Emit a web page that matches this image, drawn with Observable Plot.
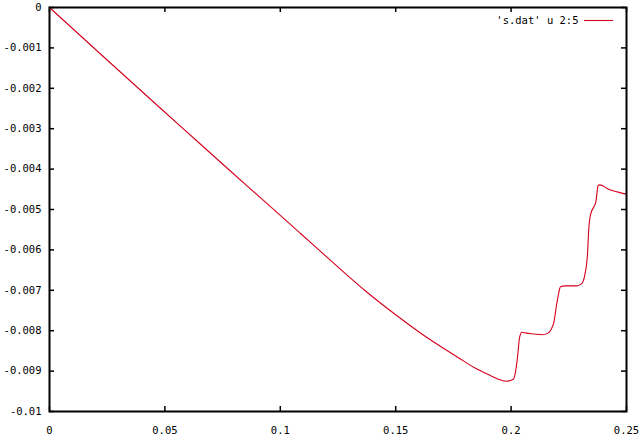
<!DOCTYPE html>
<html>
<head>
<meta charset="utf-8">
<script src="https://cdn.jsdelivr.net/npm/d3@7"></script>
<script src="https://cdn.jsdelivr.net/npm/@observablehq/plot@0.6"></script>
<style>
  html, body { margin: 0; padding: 0; background: #fff; }
  svg { display: block; }
</style>
</head>
<body>
<div id="chart"></div>
<script>
const xs = [0, 0.024, 0.0482, 0.0634, 0.0786, 0.0938, 0.1089, 0.1220, 0.1372, 0.1510, 0.1610, 0.1775, 0.1840, 0.1914, 0.1944, 0.1979, 0.2010, 0.2018, 0.2027, 0.2037, 0.2047, 0.2066, 0.2100, 0.2135, 0.2160, 0.2175, 0.2185, 0.2196, 0.2207, 0.2214, 0.2233, 0.2283, 0.2305, 0.2319, 0.2331, 0.2337, 0.2345, 0.2358, 0.2367, 0.2377, 0.2384, 0.2420, 0.2464, 0.25];
const ys = [0, -0.00125, -0.00250, -0.00328, -0.00406, -0.00483, -0.00560, -0.00627, -0.00703, -0.00765, -0.00807, -0.00868, -0.00891, -0.00912, -0.00920, -0.00925, -0.00920, -0.00905, -0.00870, -0.00816, -0.00804, -0.00806, -0.00808, -0.00810, -0.00806, -0.00795, -0.00780, -0.00740, -0.00705, -0.00691, -0.00689, -0.00689, -0.00684, -0.00663, -0.00610, -0.00544, -0.00511, -0.00494, -0.00482, -0.00441, -0.00439, -0.00449, -0.00457, -0.00462];
const xTicks = [0, 0.05, 0.1, 0.15, 0.2, 0.25];
const yTicks = [0, -0.001, -0.002, -0.003, -0.004, -0.005, -0.006, -0.007, -0.008, -0.009, -0.01];
const seriesLabel = "'s.dat' u 2:5";

const data = xs.map((x, i) => ({x, y: ys[i]}));

const W = 639, H = 448;
const mL = 49, mR = 13, mT = 7, mB = 37;
const iW = W - mL - mR, iH = H - mT - mB;
const tick = 5;
const fmt = d => String(+(+d).toFixed(3));
const red = "#d4001c";

const chart = Plot.plot({
  width: W,
  height: H,
  marginLeft: mL,
  marginRight: mR,
  marginTop: mT,
  marginBottom: mB,
  style: {fontFamily: "'DejaVu Sans Mono', monospace", fontSize: "10.5px", background: "#fff", color: "#000"},
  x: {domain: [0, 0.25], label: null},
  y: {domain: [-0.01, 0], label: null},
  marks: [
    Plot.axisX(xTicks, {tickSize: 0, tickPadding: 15, tickFormat: fmt, fontSize: 10.5, label: null}),
    Plot.axisY(yTicks, {tickSize: 0, tickPadding: 8, tickFormat: fmt, fontSize: 10.5, label: null}),
    // inward ticks on all four sides
    Plot.ruleX(xTicks, {x: d => d, insetTop: iH - tick, stroke: "#000", strokeWidth: 1.5}),
    Plot.ruleX(xTicks, {x: d => d, insetBottom: iH - tick, stroke: "#000", strokeWidth: 1.5}),
    Plot.ruleY(yTicks, {y: d => d, insetRight: iW - tick, stroke: "#000", strokeWidth: 1.5}),
    Plot.ruleY(yTicks, {y: d => d, insetLeft: iW - tick, stroke: "#000", strokeWidth: 1.5}),
    Plot.line(data, {x: "x", y: "y", stroke: red, strokeWidth: 1.1, curve: "monotone-x"}),
    // legend
    Plot.text([seriesLabel], {text: d => d, frameAnchor: "top-right", dx: -48, dy: 13, textAnchor: "end", lineAnchor: "middle", fill: "#000", fontSize: 10.5}),
    Plot.ruleY([0], {dy: 13, insetLeft: 535, insetRight: 13, stroke: red, strokeWidth: 1.1}),
    Plot.frame({stroke: "#000", strokeWidth: 2})
  ]
});
document.getElementById("chart").appendChild(chart);
</script>
</body>
</html>
